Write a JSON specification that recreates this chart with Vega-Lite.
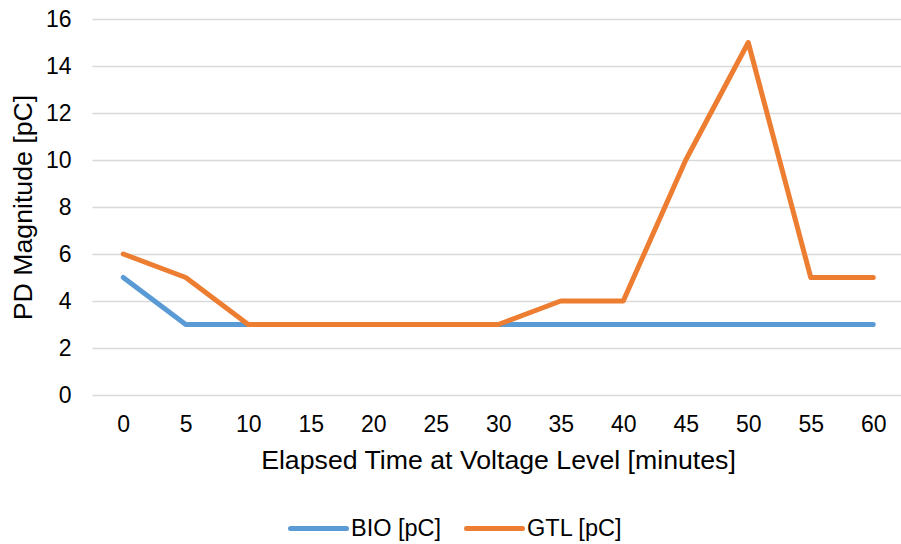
{
  "$schema": "https://vega.github.io/schema/vega-lite/v6.json",
  "autosize": "none",
  "width": 809,
  "height": 376,
  "padding": {"left": 92, "top": 19, "right": 0, "bottom": 149},
  "background": "white",
  "data": {
    "values": [
      {"t": 0, "v": 5, "s": "BIO [pC]"},
      {"t": 5, "v": 3, "s": "BIO [pC]"},
      {"t": 10, "v": 3, "s": "BIO [pC]"},
      {"t": 15, "v": 3, "s": "BIO [pC]"},
      {"t": 20, "v": 3, "s": "BIO [pC]"},
      {"t": 25, "v": 3, "s": "BIO [pC]"},
      {"t": 30, "v": 3, "s": "BIO [pC]"},
      {"t": 35, "v": 3, "s": "BIO [pC]"},
      {"t": 40, "v": 3, "s": "BIO [pC]"},
      {"t": 45, "v": 3, "s": "BIO [pC]"},
      {"t": 50, "v": 3, "s": "BIO [pC]"},
      {"t": 55, "v": 3, "s": "BIO [pC]"},
      {"t": 60, "v": 3, "s": "BIO [pC]"},
      {"t": 0, "v": 6, "s": "GTL [pC]"},
      {"t": 5, "v": 5, "s": "GTL [pC]"},
      {"t": 10, "v": 3, "s": "GTL [pC]"},
      {"t": 15, "v": 3, "s": "GTL [pC]"},
      {"t": 20, "v": 3, "s": "GTL [pC]"},
      {"t": 25, "v": 3, "s": "GTL [pC]"},
      {"t": 30, "v": 3, "s": "GTL [pC]"},
      {"t": 35, "v": 4, "s": "GTL [pC]"},
      {"t": 40, "v": 4, "s": "GTL [pC]"},
      {"t": 45, "v": 10, "s": "GTL [pC]"},
      {"t": 50, "v": 15, "s": "GTL [pC]"},
      {"t": 55, "v": 5, "s": "GTL [pC]"},
      {"t": 60, "v": 5, "s": "GTL [pC]"}
    ]
  },
  "mark": {"type": "line", "strokeWidth": 5, "strokeCap": "round", "strokeJoin": "round"},
  "encoding": {
    "x": {
      "field": "t",
      "type": "quantitative",
      "scale": {"domain": [-2.5, 62.5], "range": [0, 812.5], "nice": false, "zero": false},
      "axis": {
        "title": "Elapsed Time at Voltage Level [minutes]",
        "values": [0, 5, 10, 15, 20, 25, 30, 35, 40, 45, 50, 55, 60],
        "grid": false,
        "domain": false,
        "ticks": false,
        "labelPadding": 18,
        "titlePadding": 11,
        "labelFlush": false,
        "labelOverlap": false,
        "titleX": 406
      }
    },
    "y": {
      "field": "v",
      "type": "quantitative",
      "scale": {"domain": [0, 16], "nice": false},
      "axis": {
        "title": "PD Magnitude [pC]",
        "values": [0, 2, 4, 6, 8, 10, 12, 14, 16],
        "grid": true,
        "gridColor": "#D9D9D9",
        "gridWidth": 1.3,
        "domain": false,
        "ticks": false,
        "labelPadding": 21,
        "titlePadding": 8
      }
    },
    "color": {
      "field": "s",
      "type": "nominal",
      "scale": {"domain": ["BIO [pC]", "GTL [pC]"], "range": ["#5B9BD5", "#ED7D31"]},
      "legend": {
        "title": null,
        "orient": "none",
        "direction": "horizontal",
        "legendX": 196,
        "legendY": 479,
        "symbolType": "stroke",
        "symbolSize": 3136,
        "symbolStrokeWidth": 5,
        "labelOffset": 2,
        "columnPadding": 14,
        "encode": {"symbols": {"update": {"strokeWidth": {"value": 5}, "strokeCap": {"value": "round"}}}}
      }
    }
  },
  "config": {
    "view": {"stroke": null},
    "font": "Liberation Sans",
    "axis": {
      "labelFont": "Liberation Sans",
      "titleFont": "Liberation Sans",
      "labelFontSize": 23,
      "titleFontSize": 26.7,
      "titleFontWeight": "normal",
      "labelColor": "#000000",
      "titleColor": "#000000"
    },
    "legend": {
      "labelFont": "Liberation Sans",
      "labelFontSize": 23.5,
      "labelColor": "#000000",
      "labelLimit": 300,
      "symbolStrokeWidth": 5
    }
  }
}
